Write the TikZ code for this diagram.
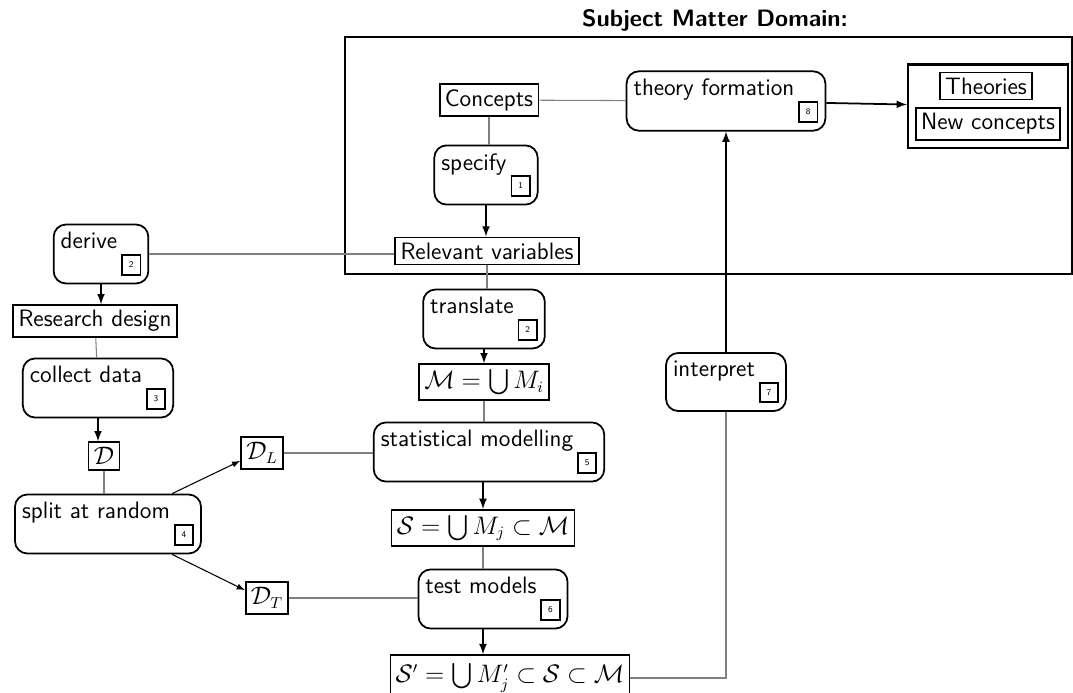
\documentclass[tikz,border=0pt]{standalone}
\usepackage{amsmath}
\usepackage{tikz}
\usetikzlibrary{fit}

\newcommand{\stepno}[1]{\,\raisebox{-1.8ex}{\setlength{\fboxsep}{3.4pt}\setlength{\fboxrule}{1pt}\fbox{\tiny #1}}}

\tikzset{
  box/.style={draw, line width=1pt, inner sep=3pt},
  stepbox/.style={draw, line width=1pt, rounded corners=7pt, inner xsep=4pt, inner ysep=4.5pt},
  link/.style={gray, line width=0.6pt},
  flow/.style={line width=1pt, -latex},
  split/.style={line width=0.6pt, -latex}
}

\begin{document}
\begin{tikzpicture}[x=0.02cm, y=-0.02cm, font=\sffamily\fontsize{13.5}{16}\selectfont]
    \useasboundingbox (0,0) rectangle (1073,693);

    % subject matter domain
    \node[font=\sffamily\bfseries\fontsize{13.5}{16}\selectfont] (title) at (715,20) {Subject Matter Domain:};
    \draw[line width=1pt] (345,37) rectangle (1072,274);

    \node[box] (concepts) at (489,100) {Concepts};
    \node[stepbox] (theory) at (726,101) {theory formation\stepno{8}};
    \node[box] (theories) at (986,86) {Theories};
    \node[box] (newconc) at (988,124) {New concepts};
    \node[draw, line width=1.2pt, inner sep=4pt, fit=(theories)(newconc)] (results) {};
    \node[stepbox] (specify) at (486,175) {specify\stepno{1}};
    \node[box] (relvar) at (487,251) {Relevant variables};

    % left column
    \node[stepbox] (derive) at (101,254) {derive\stepno{2}};
    \node[box] (design) at (95,321) {Research design};
    \node[stepbox] (collect) at (98,388) {collect data\stepno{3}};
    \node[box] (data) at (104,456) {$\mathcal{D}$};
    \node[stepbox] (splitr) at (108,524) {split at random\stepno{4}};
    \node[box] (dl) at (262,453) {$\mathcal{D}_L$};
    \node[box] (dt) at (267,598) {$\mathcal{D}_T$};

    % middle column
    \node[stepbox] (translate) at (484,319) {translate\stepno{2}};
    \node[box] (mset) at (484,382) {$\mathcal{M} = \bigcup M_i$};
    \node[stepbox] (model) at (489,452) {statistical modelling\stepno{5}};
    \node[box] (sset) at (483,528) {$\mathcal{S} = \bigcup M_j \subset \mathcal{M}$};
    \node[stepbox] (test) at (493,599) {test models\stepno{6}};
    \node[box, inner ysep=5pt] (spset) at (510,678) {$\mathcal{S}' = \bigcup M_j' \subset \mathcal{S} \subset \mathcal{M}$};
    \node[stepbox] (interp) at (726,382) {interpret\stepno{7}};

    % connections
    \draw[link] (concepts) -- (theory);
    \draw[link] (concepts.south) -- (concepts.south |- specify.north);
    \draw[flow] (specify.south) -- (specify.south |- relvar.north);
    \draw[flow] (theory) -- (results);
    \draw[flow] (interp) -- (theory);
    \draw[link] (spset.east) -| (interp.south);

    \draw[link] (derive) -- (derive -| relvar.west);
    \draw[flow] (derive.south) -- (derive.south |- design.north);
    \draw[link] (design) -- (collect);
    \draw[flow] (collect.south) -- (collect.south |- data.north);
    \draw[link] (data) -- (data |- splitr.north);
    \draw[split] ([xshift=-17pt]splitr.north east) -- ([yshift=5pt]dl.south west);
    \draw[split] ([xshift=-17pt]splitr.south east) -- ([yshift=-5pt]dt.north west);

    \draw[link] (relvar.south) -- (relvar.south |- translate.north);
    \draw[flow] (translate) -- (translate |- mset.north);
    \draw[link] (mset) -- (mset |- model.north);
    \draw[link] (dl) -- (dl -| model.west);
    \draw[flow] (sset |- model.south) -- (sset);
    \draw[link] (sset) -- (sset |- test.north);
    \draw[link] (dt) -- (dt -| test.west);
    \draw[flow] (sset |- test.south) -- (sset |- spset.north);
\end{tikzpicture}
\end{document}
